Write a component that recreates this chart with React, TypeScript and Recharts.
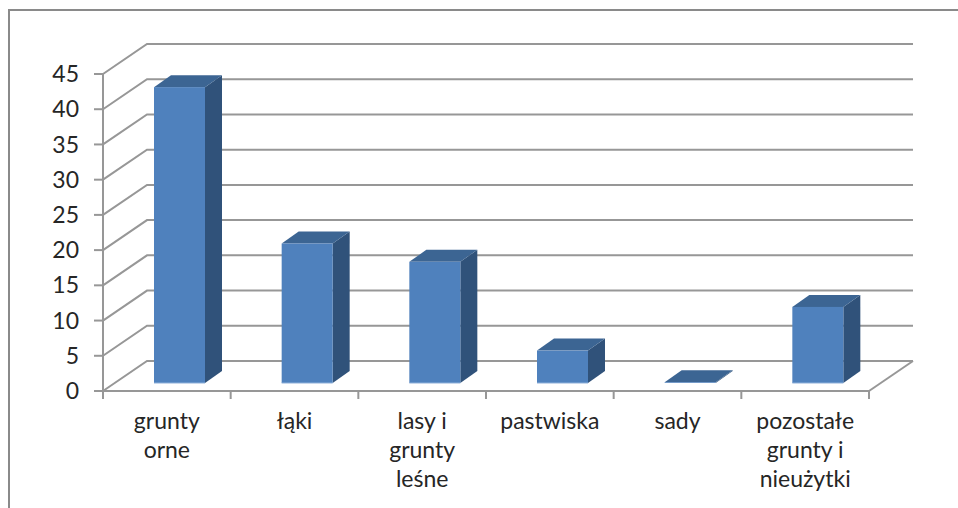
import React from "react";
import { BarChart, Bar, XAxis, YAxis, CartesianGrid } from "recharts";

const categories = ["grunty orne", "łąki", "lasy i grunty leśne", "pastwiska", "sady", "pozostałe grunty i nieużytki"];
const tickLines = [["grunty", "orne"], ["łąki"], ["lasy i", "grunty", "leśne"], ["pastwiska"], ["sady"], ["pozostałe", "grunty i", "nieużytki"]];
const values = [42, 19.8, 17.2, 4.6, 0.1, 10.8];
const yTicks = [0, 5, 10, 15, 20, 25, 30, 35, 40, 45];

const data = categories.map((name, i) => ({ name, value: values[i] }));

const FONT = "Lato, 'Open Sans', sans-serif";
const W = 958, H = 508;
const LEFT = 103, RIGHT = 869, TOP = 74, BOTTOM = 391;
const WALL_DX = 44, WALL_DY = 30;
const GRID = "#979797";

function Bar3D(props: any) {
  const { x, y, width, height } = props;
  const sx = x + 13, sy = y - 8;
  const dx = 17, dy = 12;
  const b = sy + height;
  return (
    <g>
      <path d={`M${sx + width},${sy} L${sx + width + dx},${sy - dy} L${sx + width + dx},${b - dy} L${sx + width},${b} Z`} fill="#30527A" />
      <path d={`M${sx},${sy} L${sx + dx},${sy - dy} L${sx + width + dx},${sy - dy} L${sx + width},${sy} Z`} fill="#3C6593" />
      <rect x={sx} y={sy} width={width} height={Math.max(height, 0.5)} fill="#4F81BD" />
      {height > 2 ? <line x1={sx} x2={sx + width} y1={b} y2={b} stroke="#8FB0DA" strokeWidth={1} /> : null}
    </g>
  );
}

function GridLine(props: any) {
  const { x1, y1, x2, y2 } = props;
  const isFloor = Math.abs(y1 - BOTTOM) < 1;
  return (
    <g>
      <path d={`M${x1},${y1} L${x1 + WALL_DX},${y1 - WALL_DY} L${x2 + 44},${y2 - WALL_DY}`} fill="none" stroke={GRID} strokeWidth={2} />
      {isFloor ? <line x1={x2} y1={y2} x2={x2 + 44} y2={y2 - WALL_DY} stroke={GRID} strokeWidth={2} /> : null}
    </g>
  );
}

function CategoryTick(props: any) {
  const { x, y, index } = props;
  const band = (RIGHT - LEFT) / categories.length;
  const lines = tickLines[index] || [];
  return (
    <g>
      <line x1={x - band / 2} x2={x - band / 2} y1={y} y2={y + 8} stroke={GRID} strokeWidth={2} />
      {index === categories.length - 1 ? (
        <line x1={x + band / 2} x2={x + band / 2} y1={y} y2={y + 8} stroke={GRID} strokeWidth={2} />
      ) : null}
      {lines.map((t: string, i: number) => (
        <text key={i} x={x} y={y + 38 + i * 29} textAnchor="middle" fontSize={23} fontFamily={FONT} fill="#262626">
          {t}
        </text>
      ))}
    </g>
  );
}

export default function App() {
  return (
    <div style={{ position: "absolute", left: 0, top: 0, width: W, height: H, overflow: "hidden", background: "#fff" }}>
      <div style={{ position: "absolute", left: 8, top: 9, width: W, height: H, borderLeft: "2px solid #8a8a8a", borderTop: "2px solid #8a8a8a" }} />
      <div style={{ position: "absolute", left: 0, top: 0 }}>
        <BarChart
          width={W}
          height={H}
          data={data}
          margin={{ left: 0, right: W - RIGHT, top: TOP, bottom: 0 }}
          style={{ background: "transparent" }}
        >
          <CartesianGrid vertical={false} horizontal={(p: any) => <GridLine key={p.key} {...p} />} />
          <XAxis
            dataKey="name"
            axisLine={{ stroke: GRID, strokeWidth: 2 }}
            tickLine={false}
            interval={0}
            height={H - BOTTOM}
            tick={<CategoryTick />}
            tickMargin={0}
            tickSize={0}
          />
          <YAxis
            width={LEFT}
            domain={[0, 45]}
            ticks={yTicks}
            interval={0}
            axisLine={{ stroke: GRID, strokeWidth: 2 }}
            tickLine={{ stroke: GRID, strokeWidth: 2 }}
            tickSize={9}
            tickMargin={15}
            tick={{ fontSize: 23, fill: "#262626", fontFamily: FONT }}
          />
          <Bar dataKey="value" barSize={51} isAnimationActive={false} shape={<Bar3D />} />
        </BarChart>
      </div>
    </div>
  );
}
